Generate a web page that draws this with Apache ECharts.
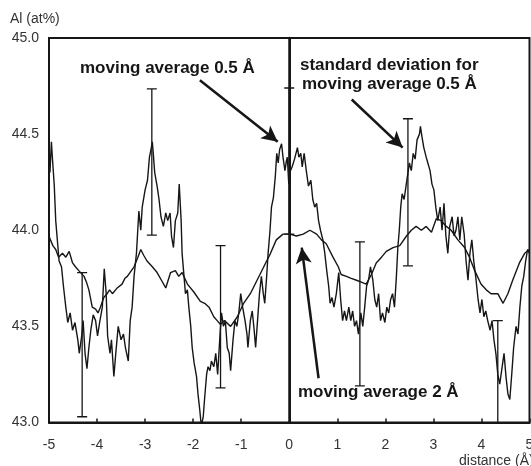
<!DOCTYPE html>
<html><head><meta charset="utf-8">
<script src="https://cdn.jsdelivr.net/npm/echarts@6/dist/echarts.min.js"></script>
<style>html,body{margin:0;padding:0;background:#fff}#c{width:531px;height:466px}</style>
</head><body><div id="c"></div>
<script>
// x-axis ticks and y-axis ticks
const xTicks = [-5, -4, -3, -2, -1, 0, 1, 2, 3, 4, 5];
const yTicks = [43.0, 43.5, 44.0, 44.5, 45.0];

// moving average 0.5 Å : [distance, Al at%]
const ma05 = [
[-5.00,44.36],[-4.98,44.30],[-4.95,44.46],[-4.93,44.38],[-4.89,44.23],[-4.86,44.05],[-4.82,43.93],[-4.79,43.84],[-4.74,43.81],[-4.70,43.71],[-4.65,43.60],[-4.61,43.52],[-4.56,43.57],[-4.51,43.48],[-4.46,43.52],[-4.40,43.43],[-4.37,43.36],[-4.32,43.45],[-4.29,43.53],[-4.25,43.36],[-4.21,43.28],[-4.17,43.39],[-4.13,43.48],[-4.08,43.56],[-4.03,43.53],[-3.99,43.45],[-3.94,43.53],[-3.89,43.60],[-3.85,43.80],[-3.81,43.67],[-3.78,43.45],[-3.73,43.36],[-3.70,43.43],[-3.65,43.24],[-3.61,43.36],[-3.56,43.50],[-3.50,43.43],[-3.45,43.46],[-3.41,43.39],[-3.35,43.32],[-3.31,43.53],[-3.27,43.60],[-3.23,43.76],[-3.18,43.88],[-3.13,44.10],[-3.09,44.00],[-3.06,44.12],[-3.00,44.21],[-2.95,44.26],[-2.91,44.38],[-2.87,44.43],[-2.85,44.46],[-2.83,44.40],[-2.80,44.30],[-2.75,44.23],[-2.71,44.16],[-2.67,44.07],[-2.62,44.02],[-2.57,44.09],[-2.53,44.05],[-2.48,44.09],[-2.45,43.97],[-2.41,43.91],[-2.37,44.05],[-2.32,44.09],[-2.29,44.24],[-2.25,44.05],[-2.23,43.88],[-2.19,43.76],[-2.16,43.67],[-2.12,43.69],[-2.09,43.60],[-2.05,43.50],[-2.02,43.39],[-1.98,43.31],[-1.93,43.24],[-1.90,43.15],[-1.86,43.06],[-1.83,42.98],[-1.79,43.03],[-1.76,43.13],[-1.72,43.25],[-1.69,43.29],[-1.65,43.27],[-1.62,43.32],[-1.57,43.29],[-1.53,43.36],[-1.49,43.25],[-1.44,43.46],[-1.41,43.57],[-1.37,43.50],[-1.33,43.53],[-1.29,43.39],[-1.25,43.36],[-1.22,43.27],[-1.17,43.43],[-1.13,43.53],[-1.09,43.50],[-1.05,43.57],[-1.01,43.67],[-0.97,43.60],[-0.92,43.53],[-0.88,43.46],[-0.86,43.39],[-0.81,43.53],[-0.77,43.58],[-0.73,43.48],[-0.70,43.39],[-0.66,43.53],[-0.62,43.67],[-0.58,43.76],[-0.54,43.67],[-0.51,43.62],[-0.47,43.76],[-0.44,43.88],[-0.40,44.00],[-0.37,44.12],[-0.33,44.17],[-0.29,44.28],[-0.26,44.40],[-0.23,44.35],[-0.20,44.42],[-0.16,44.45],[-0.13,44.38],[-0.09,44.31],[-0.06,44.36],[-0.04,44.38],[-0.01,44.24],[0.01,44.30],[0.06,44.33],[0.11,44.37],[0.17,44.43],[0.20,44.38],[0.24,44.40],[0.27,44.33],[0.31,44.40],[0.36,44.30],[0.40,44.23],[0.45,44.26],[0.49,44.16],[0.53,44.12],[0.57,44.14],[0.61,44.05],[0.65,44.00],[0.70,43.95],[0.74,43.88],[0.78,43.79],[0.82,43.71],[0.85,43.62],[0.89,43.65],[0.93,43.60],[0.98,43.67],[1.03,43.78],[1.07,43.64],[1.11,43.53],[1.15,43.58],[1.19,43.53],[1.24,43.60],[1.28,43.53],[1.32,43.58],[1.36,43.50],[1.40,43.53],[1.44,43.46],[1.49,43.57],[1.53,43.50],[1.57,43.60],[1.61,43.71],[1.65,43.74],[1.69,43.81],[1.74,43.74],[1.78,43.64],[1.82,43.60],[1.86,43.67],[1.90,43.53],[1.94,43.57],[1.99,43.52],[2.03,43.60],[2.07,43.57],[2.11,43.64],[2.15,43.67],[2.19,43.60],[2.23,43.76],[2.26,43.91],[2.29,44.00],[2.32,44.12],[2.35,44.19],[2.39,44.16],[2.43,44.23],[2.46,44.23],[2.50,44.35],[2.54,44.31],[2.58,44.40],[2.62,44.37],[2.66,44.47],[2.71,44.50],[2.73,44.54],[2.76,44.49],[2.80,44.43],[2.85,44.38],[2.89,44.37],[2.93,44.31],[2.97,44.24],[3.01,44.21],[3.05,44.12],[3.09,44.05],[3.14,44.12],[3.18,44.00],[3.22,44.14],[3.26,43.97],[3.30,43.88],[3.34,44.02],[3.39,44.07],[3.43,43.97],[3.47,44.00],[3.51,44.07],[3.55,43.95],[3.59,44.07],[3.64,43.98],[3.68,43.84],[3.72,43.74],[3.76,43.88],[3.80,43.95],[3.84,43.84],[3.88,43.76],[3.93,43.64],[3.97,43.57],[4.01,43.64],[4.05,43.55],[4.09,43.58],[4.13,43.53],[4.18,43.48],[4.22,43.53],[4.26,43.43],[4.30,43.36],[4.34,43.25],[4.38,43.20],[4.42,43.27],[4.47,43.36],[4.51,43.24],[4.55,43.15],[4.59,43.12],[4.63,43.25],[4.67,43.39],[4.72,43.50],[4.76,43.46],[4.80,43.60],[4.84,43.71],[4.88,43.76],[4.92,43.84],[4.96,43.90],[5.00,43.88]
];

// moving average 2 Å
const ma2 = [
[-5.00,43.97],[-4.97,43.95],[-4.92,43.92],[-4.86,43.90],[-4.80,43.86],[-4.72,43.88],[-4.65,43.86],[-4.58,43.89],[-4.51,43.83],[-4.45,43.81],[-4.38,43.79],[-4.27,43.76],[-4.22,43.73],[-4.17,43.69],[-4.10,43.60],[-4.03,43.59],[-3.98,43.57],[-3.93,43.60],[-3.86,43.65],[-3.79,43.67],[-3.74,43.69],[-3.68,43.67],[-3.58,43.70],[-3.48,43.72],[-3.42,43.75],[-3.37,43.76],[-3.23,43.81],[-3.15,43.86],[-3.09,43.90],[-3.03,43.87],[-2.96,43.84],[-2.85,43.81],[-2.75,43.78],[-2.66,43.74],[-2.57,43.70],[-2.47,43.78],[-2.37,43.79],[-2.30,43.76],[-2.23,43.78],[-2.12,43.72],[-1.99,43.68],[-1.85,43.63],[-1.76,43.62],[-1.67,43.60],[-1.57,43.55],[-1.50,43.53],[-1.43,43.51],[-1.35,43.53],[-1.22,43.50],[-1.08,43.55],[-0.95,43.62],[-0.81,43.67],[-0.67,43.74],[-0.53,43.81],[-0.39,43.88],[-0.27,43.95],[-0.13,43.98],[0.01,43.98],[0.15,43.97],[0.29,43.98],[0.43,44.00],[0.57,43.98],[0.67,43.95],[0.77,43.93],[0.91,43.86],[1.02,43.81],[1.08,43.77],[1.19,43.76],[1.29,43.75],[1.40,43.74],[1.50,43.73],[1.60,43.72],[1.71,43.77],[1.81,43.83],[1.92,43.86],[2.02,43.89],[2.16,43.91],[2.30,43.92],[2.44,43.97],[2.54,44.00],[2.64,44.02],[2.75,44.00],[2.85,44.02],[2.96,43.99],[3.06,44.06],[3.16,44.05],[3.27,44.02],[3.37,44.00],[3.51,43.95],[3.65,43.91],[3.75,43.86],[3.86,43.79],[3.99,43.72],[4.10,43.69],[4.20,43.67],[4.34,43.67],[4.45,43.62],[4.55,43.67],[4.65,43.74],[4.79,43.83],[4.90,43.88],[5.00,43.90]
];

// standard deviation bars for moving average 0.5 Å : [distance, low, high]
const stdBars = [
[-4.31,43.03,43.78],[-2.86,43.975,44.735],[-1.43,43.18,43.92],[0.0,43.98,44.74],[1.47,43.19,43.94],[2.47,43.815,44.58],[4.34,42.78,43.53]
];

// annotation arrows: [from, to] in data coordinates
const arrows = [
[[-1.86,44.78],[-0.24,44.46]],
[[1.30,44.68],[2.36,44.43]],
[[0.61,43.23],[0.26,43.91]]
];

const chart = echarts.init(document.getElementById('c'), null, {renderer:'canvas'});
const FONT = '"Liberation Sans", Arial, sans-serif';
const ink = '#161616';

chart.setOption({
  animation: false,
  backgroundColor: '#fff',
  grid: {left: 49, right: 1.5, top: 38, bottom: 43.5, outerBoundsMode: 'none', containLabel: false,
         show: true, borderColor: ink, borderWidth: 2, backgroundColor: 'transparent'},
  xAxis: {
    type: 'value', min: xTicks[0], max: xTicks[xTicks.length-1], interval: 1,
    axisLine: {lineStyle: {color: ink, width: 2}},
    axisTick: {inside: true, length: 4, lineStyle: {color: ink, width: 1.5}},
    axisLabel: {color: '#333', fontSize: 14, fontFamily: FONT, margin: 16},
    splitLine: {show: false}
  },
  yAxis: {
    type: 'value', min: yTicks[0], max: yTicks[yTicks.length-1], interval: 0.5,
    axisLine: {show: true, lineStyle: {color: ink, width: 2.5}},
    axisTick: {show: false},
    axisLabel: {color: '#333', fontSize: 14, fontFamily: FONT, margin: 10, formatter: v => v.toFixed(1)},
    splitLine: {show: false}
  },
  graphic: [
    {type:'text', left: 10, top: 12, style:{text:'Al (at%)', fill:'#333', font:'14px ' + FONT}},
    {type:'text', left: 459, top: 454, style:{text:'distance (Å)', fill:'#333', font:'14px ' + FONT}},
    {type:'text', left: 80, top: 60, style:{text:'moving average 0.5 Å', fill: ink, font:'bold 17px ' + FONT}},
    {type:'text', left: 300, top: 57, style:{text:'standard deviation for', fill: ink, font:'bold 17px ' + FONT}},
    {type:'text', left: 302, top: 76, style:{text:'moving average 0.5 Å', fill: ink, font:'bold 17px ' + FONT}},
    {type:'text', left: 298, top: 384, style:{text:'moving average 2 Å', fill: ink, font:'bold 17px ' + FONT}}
  ],
  series: [
    {
      type: 'line', name: 'ma2', data: ma2, showSymbol: false, symbol: 'none',
      lineStyle: {color: ink, width: 1.4}, z: 3
    },
    {
      type: 'line', name: 'ma05', data: ma05, showSymbol: false, symbol: 'none',
      lineStyle: {color: ink, width: 1.4}, z: 3,
      markLine: {
        silent: true, animation: false,
        label: {show: false},
        data: [
          [{coord: [0, 43], symbol: 'none', lineStyle:{width:2, type:'solid', color: ink}}, {coord: [0, 45], symbol: 'none'}]
        ].concat(arrows.map(a => [
          {coord: a[0], symbol: 'none', lineStyle: {width: 2.5, type: 'solid', color: ink}},
          {coord: a[1], symbol: 'arrow', symbolSize: [12, 16]}
        ]))
      }
    },
    {
      type: 'custom', name: 'std', data: stdBars, clip: true, z: 4,
      renderItem: function (params, api) {
        const x = api.value(0), lo = api.value(1), hi = api.value(2);
        const p1 = api.coord([x, lo]), p2 = api.coord([x, hi]);
        const w = 5;
        const st = {stroke: ink, lineWidth: 1.3};
        return {type: 'group', children: [
          {type:'line', shape:{x1:p1[0], y1:p1[1], x2:p2[0], y2:p2[1]}, style: st},
          {type:'line', shape:{x1:p1[0]-w, y1:p1[1], x2:p1[0]+w, y2:p1[1]}, style: st},
          {type:'line', shape:{x1:p2[0]-w, y1:p2[1], x2:p2[0]+w, y2:p2[1]}, style: st}
        ]};
      }
    }
  ]
});
</script>
</body></html>
